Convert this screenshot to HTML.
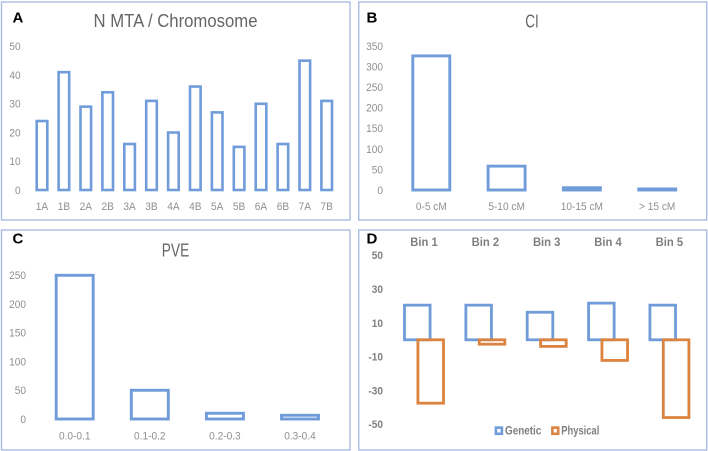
<!DOCTYPE html>
<html>
<head>
<meta charset="utf-8">
<style>
html,body{margin:0;padding:0;background:#fff;width:708px;height:451px;overflow:hidden}
svg{display:block;font-family:"Liberation Sans",sans-serif}
</style>
</head>
<body>
<svg id="fig" xmlns="http://www.w3.org/2000/svg" width="708" height="451" viewBox="0 0 708 451">
  <defs><filter id="soft" x="-2%" y="-2%" width="104%" height="104%"><feGaussianBlur stdDeviation="0.3"/></filter></defs>
  <g id="root" filter="url(#soft)"></g>
</svg>
<script>
// Panel A
const chromosomes = ['1A','1B','2A','2B','3A','3B','4A','4B','5A','5B','6A','6B','7A','7B'];
const mtaCounts = [24,41,29,34,16,31,20,36,27,15,30,16,45,31];
const mtaTicks = [0,10,20,30,40,50];
// Panel B
const ciBins = ['0-5 cM','5-10 cM','10-15 cM','> 15 cM'];
const ciCounts = [326,58,5.5,2.5];
const ciTicks = [0,50,100,150,200,250,300,350];
// Panel C
const pveBins = ['0.0-0.1','0.1-0.2','0.2-0.3','0.3-0.4'];
const pveCounts = [250,50,10,6.5];
const pveTicks = [0,50,100,150,200,250];
// Panel D
const bins = ['Bin 1','Bin 2','Bin 3','Bin 4','Bin 5'];
const geneticValues = [20.5,20.5,16.3,21.7,20.5];
const physicalValues = [-37.5,-2.6,-3.9,-12.2,-46];
const mirrorTicks = [50,30,10,-10,-30,-50];

const NS = 'http://www.w3.org/2000/svg';
const BLUE = '#6f9cda', ORANGE = '#dd8340', EDGE = '#a9bce4';
const root = document.getElementById('root');

function make(tag, attrs, text) {
  const el = document.createElementNS(NS, tag);
  for (const k in attrs) el.setAttribute(k, attrs[k]);
  if (text !== undefined) el.textContent = text;
  root.appendChild(el);
  return el;
}
function condense(el, k) {
  el.setAttribute('textLength', (el.getComputedTextLength() * k).toFixed(2));
  el.setAttribute('lengthAdjust', 'spacingAndGlyphs');
}
function linear(d0, d1, r0, r1) {
  return v => r0 + (v - d0) * (r1 - r0) / (d1 - d0);
}
function band(x0, step) {
  return i => x0 + step * i;
}
function frame(name, x, y, w, h) {
  const el = make('rect', {x, y, width: w, height: h, fill: '#fff', stroke: EDGE, 'stroke-width': 1.4});
  
  
}
function letter(name, x, y, t) {
  const el = make('text', {x, y, 'font-size': 15, 'font-weight': 'bold', fill: '#000'}, t);
  
  
}
function title(name, x, y, t, len) {
  const el = make('text', {x, y, 'font-size': 18, fill: '#666', 'text-anchor': 'middle', textLength: len, lengthAdjust: 'spacingAndGlyphs'}, t);
  
  
}
function tick(name, x, y, t, weight) {
  const el = make('text', {x, y: y + 3.9, 'font-size': 11, fill: weight ? '#7f7f7f' : '#8f8f8f', 'text-anchor': 'end', 'font-weight': weight || 'normal'}, t);
  
  
  condense(el, 0.92);
}
function catLabel(name, x, y, t) {
  const el = make('text', {x, y, 'font-size': 11, fill: '#8f8f8f', 'text-anchor': 'middle'}, t);
  
  
  condense(el, 0.92);
}
function bar(name, cx, w, yA, yB, color, sw) {
  const top = Math.min(yA, yB), h = Math.abs(yA - yB);
  const el = make('rect', {x: cx - w / 2, y: top, width: w, height: h, fill: 'none', stroke: color, 'stroke-width': sw});
  
  
}
function simplePanel(cfg) {
  cfg.ticks.forEach(v => tick('y-tick-' + cfg.id + '-' + v, cfg.tickX, cfg.y(v), String(v)));
  cfg.cats.forEach((c, i) => {
    catLabel('x-label-' + cfg.id + '-' + c.replace(/[^0-9A-Za-z.]+/g, '-'), cfg.x(i), cfg.labelY, c);
    bar('bar-' + cfg.id + '-' + i, cfg.x(i), cfg.barW, cfg.y(0), cfg.y(cfg.vals[i]), BLUE, cfg.sw);
  });
}

// Panel A
frame('panel-a-frame', 1.5, 2, 348.5, 218);
letter('panel-a-letter', 12.5, 22.5, 'A');
title('panel-a-title', 175.5, 27, 'N MTA / Chromosome', 164);
simplePanel({id: 'a', ticks: mtaTicks, cats: chromosomes, vals: mtaCounts,
  y: linear(0, 50, 190, 46.3), x: band(42, 21.9), tickX: 20.7, labelY: 210.2, barW: 10.6, sw: 2.6});

// Panel B
frame('panel-b-frame', 358.7, 2, 348, 218);
letter('panel-b-letter', 366.5, 22.5, 'B');
title('panel-b-title', 532, 27.3, 'CI', 13.5);
simplePanel({id: 'b', ticks: ciTicks, cats: ciBins, vals: ciCounts,
  y: linear(0, 350, 190, 46), x: band(431.3, 75.3), tickX: 383, labelY: 210.2, barW: 37, sw: 2.9});

// Panel C
frame('panel-c-frame', 1.5, 230, 348.5, 220);
letter('panel-c-letter', 12.5, 243.5, 'C');
title('panel-c-title', 175.5, 256.3, 'PVE', 27.5);
simplePanel({id: 'c', ticks: pveTicks, cats: pveBins, vals: pveCounts,
  y: linear(0, 250, 419, 275.3), x: band(74.7, 75.1), tickX: 26, labelY: 439.7, barW: 37, sw: 2.9});

// Panel D
frame('panel-d-frame', 358.7, 230, 348, 220);
letter('panel-d-letter', 366.5, 243.5, 'D');
const yD = linear(0, 50, 339.8, 255.3);
const xD = band(424, 61.35);
mirrorTicks.forEach(v => tick('y-tick-d-' + v, 383, yD(v), String(v), 'bold'));
bins.forEach((b, i) => {
  const el = make('text', {x: xD(i), y: 246, 'font-size': 12, 'font-weight': 'bold', fill: '#7f7f7f', 'text-anchor': 'middle', textLength: 27.5, lengthAdjust: 'spacingAndGlyphs'}, b);
  
  
});
bins.forEach((b, i) => bar('bar-genetic-' + (i + 1), xD(i) - 6.7, 25.6, yD(0), yD(geneticValues[i]), BLUE, 2.8));
bins.forEach((b, i) => bar('bar-physical-' + (i + 1), xD(i) + 6.7, 25.6, yD(0), yD(physicalValues[i]), ORANGE, 2.8));

// Legend
const swatchG = make('rect', {x: 495.9, y: 427.6, width: 6, height: 6.2, fill: 'none', stroke: BLUE, 'stroke-width': 2.6});


const labelG = make('text', {x: 505, y: 434.3, 'font-size': 11.5, 'font-weight': 'bold', fill: '#7f7f7f', textLength: 36.3, lengthAdjust: 'spacingAndGlyphs'}, 'Genetic');


const swatchP = make('rect', {x: 552.4, y: 427.6, width: 5.8, height: 6.2, fill: 'none', stroke: ORANGE, 'stroke-width': 2.6});


const labelP = make('text', {x: 561.3, y: 434.3, 'font-size': 11.5, 'font-weight': 'bold', fill: '#7f7f7f', textLength: 38, lengthAdjust: 'spacingAndGlyphs'}, 'Physical');


</script>
</body>
</html>
